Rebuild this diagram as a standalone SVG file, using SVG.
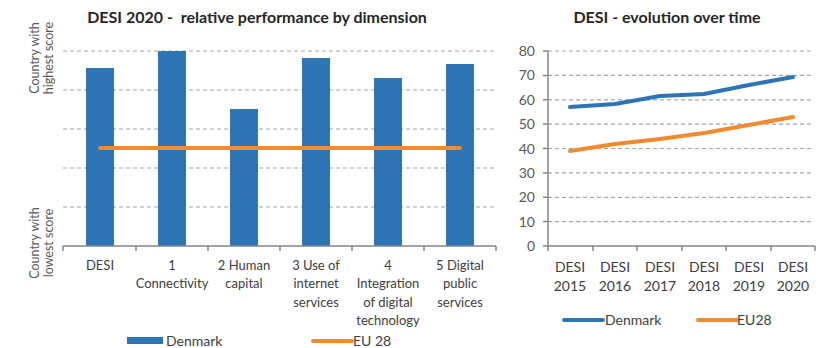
<svg xmlns="http://www.w3.org/2000/svg" width="820" height="348" viewBox="0 0 820 348">
<style>
text{font-family:Lato,"Liberation Sans",sans-serif;fill:#404040}
.title{font-weight:bold;font-size:16px;fill:#262626;white-space:pre}
.cat{font-size:13px;text-anchor:middle}
.cat14{font-size:14px;text-anchor:middle}
.yl{font-size:12.5px;fill:#595959;text-anchor:middle}
.num{font-size:14px;text-anchor:end;fill:#595959}
.leg{font-size:14px}
.grid{stroke:#A6A6A6;stroke-width:1.2;stroke-dasharray:4 3;fill:none}
.axis{stroke:#868686;stroke-width:1.5;fill:none}
.bar{fill:#2E75B6}
.blue{stroke:#2E75B6;stroke-width:4;fill:none;stroke-linejoin:round;stroke-linecap:round}
.orange{stroke:#F28A30;stroke-width:4;fill:none;stroke-linejoin:round;stroke-linecap:round}
</style>
<rect width="820" height="348" fill="#fff"/>

<g id="left-chart">
<text class="title" x="257" y="23" text-anchor="middle" xml:space="preserve">DESI 2020 -  relative performance by dimension</text>
<g id="left-grid">
<line class="grid" x1="63" y1="51" x2="494" y2="51"/>
<line class="grid" x1="63" y1="90" x2="494" y2="90"/>
<line class="grid" x1="63" y1="129" x2="494" y2="129"/>
<line class="grid" x1="63" y1="168" x2="494" y2="168"/>
<line class="grid" x1="63" y1="207" x2="494" y2="207"/>
</g>
<g id="left-bars">
<rect class="bar" x="86" y="68" width="28" height="178"/>
<rect class="bar" x="158" y="51" width="28" height="195"/>
<rect class="bar" x="230" y="109" width="28" height="137"/>
<rect class="bar" x="302" y="58" width="28" height="188"/>
<rect class="bar" x="374" y="78" width="28" height="168"/>
<rect class="bar" x="446" y="64" width="28" height="182"/>
</g>
<line id="eu-line" class="orange" x1="100" y1="148" x2="460" y2="148" stroke-linecap="butt"/>
<g id="left-axis">
<line class="axis" x1="63" y1="246" x2="496" y2="246"/>
<path class="axis" d="M63 246v5M136 246v5M208 246v5M280 246v5M352 246v5M424 246v5M496 246v5"/>
</g>
<g id="left-yaxis-labels">
<text class="yl" transform="translate(39,58) rotate(-90)">Country with</text>
<text class="yl" transform="translate(53,58) rotate(-90)">highest score</text>
<text class="yl" transform="translate(39,243) rotate(-90)">Country with</text>
<text class="yl" transform="translate(53,243) rotate(-90)">lowest score</text>
</g>
<g id="left-cats">
<text class="cat" x="100" y="270">DESI</text>
<text class="cat" x="172" y="270">1</text>
<text class="cat" x="172" y="288">Connectivity</text>
<text class="cat" x="244" y="270">2 Human</text>
<text class="cat" x="244" y="288">capital</text>
<text class="cat" x="316" y="270">3 Use of</text>
<text class="cat" x="316" y="288">internet</text>
<text class="cat" x="316" y="307">services</text>
<text class="cat" x="388" y="270">4</text>
<text class="cat" x="388" y="288">Integration</text>
<text class="cat" x="388" y="307">of digital</text>
<text class="cat" x="388" y="325">technology</text>
<text class="cat" x="460" y="270">5 Digital</text>
<text class="cat" x="460" y="288">public</text>
<text class="cat" x="460" y="307">services</text>
</g>
<g id="left-legend">
<rect class="bar" x="127" y="337" width="36" height="7"/>
<text class="leg" x="166" y="346">Denmark</text>
<line class="orange" x1="313" y1="341" x2="352" y2="341"/>
<text class="leg" x="353" y="346">EU 28</text>
</g>
</g>

<g id="right-chart">
<text class="title" x="667" y="23" text-anchor="middle">DESI - evolution over time</text>
<g id="right-grid">
<line class="grid" x1="548" y1="51" x2="814" y2="51"/>
<line class="grid" x1="548" y1="75.4" x2="814" y2="75.4"/>
<line class="grid" x1="548" y1="99.8" x2="814" y2="99.8"/>
<line class="grid" x1="548" y1="124.1" x2="814" y2="124.1"/>
<line class="grid" x1="548" y1="148.5" x2="814" y2="148.5"/>
<line class="grid" x1="548" y1="172.9" x2="814" y2="172.9"/>
<line class="grid" x1="548" y1="197.3" x2="814" y2="197.3"/>
<line class="grid" x1="548" y1="221.6" x2="814" y2="221.6"/>
</g>
<g id="right-axis">
<line class="axis" x1="548" y1="51" x2="548" y2="246"/>
<line class="axis" x1="548" y1="246" x2="815" y2="246"/>
<path class="axis" d="M543 51h5M543 75.4h5M543 99.8h5M543 124.1h5M543 148.5h5M543 172.9h5M543 197.3h5M543 221.6h5M543 246h5"/>
<path class="axis" d="M548 246v5M593 246v5M637 246v5M682 246v5M726 246v5M771 246v5M815 246v5"/>
</g>
<g id="right-nums">
<text class="num" x="535" y="56">80</text>
<text class="num" x="535" y="80.4">70</text>
<text class="num" x="535" y="104.8">60</text>
<text class="num" x="535" y="129.1">50</text>
<text class="num" x="535" y="153.5">40</text>
<text class="num" x="535" y="177.9">30</text>
<text class="num" x="535" y="202.3">20</text>
<text class="num" x="535" y="226.6">10</text>
<text class="num" x="535" y="251">0</text>
</g>
<g id="series">
<polyline class="blue" points="570,107 615,104 660,96 704,94 749,85 793,77"/>
<polyline class="orange" points="570,151 615,144 660,139 704,133 749,125 793,117"/>
</g>
<g id="right-cats">
<text class="cat14" x="570" y="272">DESI</text>
<text class="cat14" x="570" y="291">2015</text>
<text class="cat14" x="615" y="272">DESI</text>
<text class="cat14" x="615" y="291">2016</text>
<text class="cat14" x="660" y="272">DESI</text>
<text class="cat14" x="660" y="291">2017</text>
<text class="cat14" x="704" y="272">DESI</text>
<text class="cat14" x="704" y="291">2018</text>
<text class="cat14" x="749" y="272">DESI</text>
<text class="cat14" x="749" y="291">2019</text>
<text class="cat14" x="793" y="272">DESI</text>
<text class="cat14" x="793" y="291">2020</text>
</g>
<g id="right-legend">
<line class="blue" x1="564" y1="320" x2="603" y2="320"/>
<text class="leg" x="605" y="325">Denmark</text>
<line class="orange" x1="698" y1="320" x2="737" y2="320"/>
<text class="leg" x="737" y="325">EU28</text>
</g>
</g>
</svg>
